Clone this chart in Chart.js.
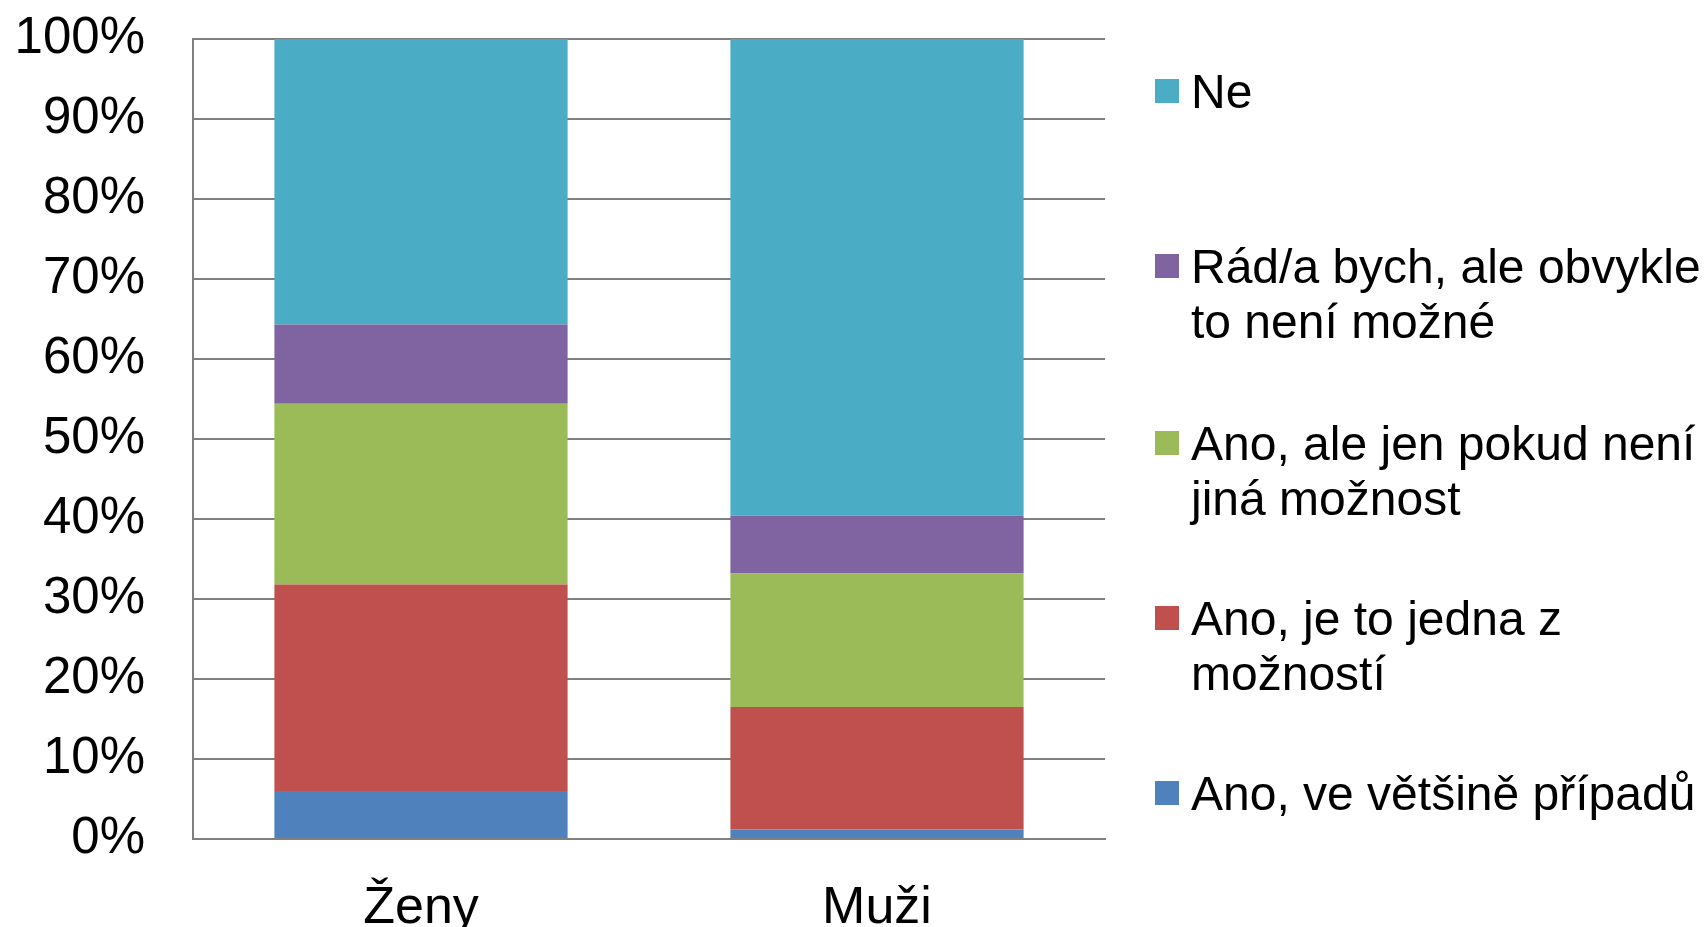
<!DOCTYPE html>
<html>
<head>
<meta charset="utf-8">
<script src="https://cdn.jsdelivr.net/npm/chart.js@4/dist/chart.umd.min.js"></script>
<style>
  html, body { margin: 0; padding: 0; background: #fff; }
  #wrap { position: relative; width: 1704px; height: 927px; overflow: hidden; }
  #chart { position: absolute; left: 0; top: 0; }
  .leg { position: absolute; left: 1155px; font-family: "Liberation Sans", Arial, sans-serif; font-size: 48px; line-height: 55px; color: #000; white-space: nowrap; }
  .leg .sw { position: absolute; left: 0; top: 15px; width: 24px; height: 24px; }
  .leg .tx { margin-left: 36px; }
</style>
</head>
<body>
<div id="wrap">
  <canvas id="chart" width="1704" height="927"></canvas>
  <div id="legend"></div>
</div>
<script>
// categories
const categories = ['Ženy', 'Muži'];

// series, bottom to top of the stack
const seriesNames = [
  ['Ano, ve většině případů'],
  ['Ano, je to jedna z', 'možností'],
  ['Ano, ale jen pokud není', 'jiná možnost'],
  ['Rád/a bych, ale obvykle', 'to není možné'],
  ['Ne']
];
const vetsinou = [6.0, 1.2];
const jednaZMoznosti = [25.8, 15.3];
const jenPokud = [22.6, 16.7];
const radBych = [9.9, 7.2];
const ne = [35.7, 59.6];
const seriesColors = ['#4F81BD', '#C0504D', '#9BBB59', '#8064A2', '#4BACC6'];

// y ticks 0..100 %
const yMin = 0, yMax = 100, yStep = 10;

const values = [vetsinou, jednaZMoznosti, jenPokud, radBych, ne];
const datasets = values.map((v, i) => ({
  label: seriesNames[i].join(' '),
  data: v,
  backgroundColor: seriesColors[i],
  borderWidth: 0,
  categoryPercentage: 1,
  barPercentage: 0.643
}));

const font = { family: '"Liberation Sans", Arial, sans-serif', size: 52 };
const gridGray = '#808080';

const chart = new Chart(document.getElementById('chart').getContext('2d'), {
  type: 'bar',
  data: { labels: categories, datasets },
  options: {
    responsive: false,
    animation: false,
    layout: { padding: { top: 39, right: 599, left: 0, bottom: 0 } },
    plugins: { legend: { display: false }, tooltip: { enabled: false }, title: { display: false } },
    scales: {
      x: {
        stacked: true,
        grid: { display: false },
        border: { display: true, color: gridGray, width: 2 },
        ticks: { color: '#000', font, padding: 30, maxRotation: 0 },
        afterFit: s => { s.height = 88; s.paddingLeft = 0; s.paddingRight = 0; }
      },
      y: {
        stacked: true,
        min: yMin, max: yMax,
        grid: { color: gridGray, lineWidth: 2, drawTicks: false },
        border: { display: true, color: gridGray, width: 2 },
        ticks: { stepSize: yStep, color: '#000', font: { ...font, size: 51 }, padding: 48, callback: v => v + '%' },
        afterFit: s => { s.width = 193; s.paddingTop = 0; s.paddingBottom = 0; }
      }
    }
  }
});

// legend on the right, top item = top of stack
const legendTops = [91, 266, 443, 618, 793];
const legendEl = document.getElementById('legend');
chart.data.datasets.slice().reverse().forEach((ds, k) => {
  const idx = chart.data.datasets.length - 1 - k;
  const item = document.createElement('div');
  item.className = 'leg';
  item.style.top = (legendTops[k] - 27) + 'px';
  item.innerHTML = '<span class="sw" style="background:' + ds.backgroundColor + '"></span>' +
    '<div class="tx">' + seriesNames[idx].join('<br>') + '</div>';
  legendEl.appendChild(item);
});
</script>
</body>
</html>
